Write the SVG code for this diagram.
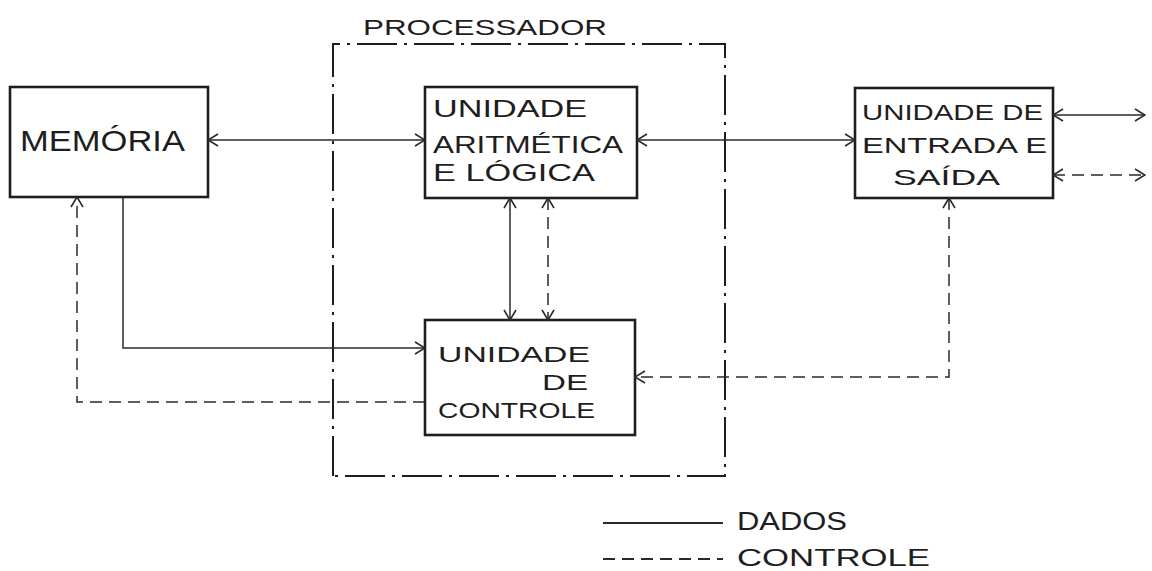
<svg xmlns="http://www.w3.org/2000/svg" width="1152" height="571" viewBox="0 0 1152 571">
<style>
.box{fill:none;stroke:#1e1e1e;stroke-width:2.6}
.d{fill:none;stroke:#2a2a2a;stroke-width:1.5}
.c{fill:none;stroke:#2a2a2a;stroke-width:1.5;stroke-dasharray:12 7}
.proc{fill:none;stroke:#1e1e1e;stroke-width:2;stroke-dasharray:40 7 3 7}
text{font-family:"Liberation Sans",Arial,sans-serif;fill:#1e1e1e;font-weight:normal}
.t{font-size:24px}
.s{font-size:22px}
</style>
<defs>
<marker id="ah" viewBox="0 0 12 14" refX="11" refY="7" markerWidth="12" markerHeight="14" markerUnits="userSpaceOnUse" orient="auto-start-reverse">
<path d="M1,1 L11,7 L1,13" fill="none" stroke="#2a2a2a" stroke-width="1.6"/>
</marker>
</defs>
<rect width="1152" height="571" fill="#ffffff"/>

<g id="processador">
<path class="proc" d="M333,476 V44 H725 V476 Z"/>
<text x="363" y="35" class="s" textLength="244" lengthAdjust="spacingAndGlyphs">PROCESSADOR</text>
</g>

<g id="memoria">
<rect class="box" x="10" y="87" width="198" height="110"/>
<text x="20" y="151" font-size="29" textLength="165" lengthAdjust="spacingAndGlyphs">MEMÓRIA</text>
</g>

<g id="ula">
<rect class="box" x="425" y="87" width="212" height="111"/>
<text x="433" y="117" class="t" textLength="154" lengthAdjust="spacingAndGlyphs">UNIDADE</text>
<text x="433" y="153" class="t" textLength="190" lengthAdjust="spacingAndGlyphs">ARITMÉTICA</text>
<text x="433" y="181" class="t" textLength="162" lengthAdjust="spacingAndGlyphs">E LÓGICA</text>
</g>

<g id="es">
<rect class="box" x="855" y="88" width="198" height="110"/>
<text x="862" y="120" class="s" textLength="181" lengthAdjust="spacingAndGlyphs">UNIDADE DE</text>
<text x="862" y="153" class="s" textLength="185" lengthAdjust="spacingAndGlyphs">ENTRADA E</text>
<text x="893" y="185" class="s" textLength="107" lengthAdjust="spacingAndGlyphs">SAÍDA</text>
</g>

<g id="uc">
<rect class="box" x="425" y="320" width="210" height="115"/>
<text x="438" y="362" class="s" textLength="152" lengthAdjust="spacingAndGlyphs">UNIDADE</text>
<text x="542" y="390" class="s" textLength="46" lengthAdjust="spacingAndGlyphs">DE</text>
<text x="438" y="418" class="s" textLength="157" lengthAdjust="spacingAndGlyphs">CONTROLE</text>
</g>

<g id="conectores">
<line class="d" x1="208" y1="140" x2="425" y2="140" marker-start="url(#ah)" marker-end="url(#ah)"/>
<line class="d" x1="637" y1="140" x2="855" y2="140" marker-start="url(#ah)" marker-end="url(#ah)"/>
<line class="d" x1="1053" y1="115" x2="1145" y2="115" marker-start="url(#ah)" marker-end="url(#ah)"/>
<line class="c" x1="1053" y1="175" x2="1145" y2="175" marker-start="url(#ah)" marker-end="url(#ah)"/>
<line class="d" x1="510" y1="198" x2="510" y2="320" marker-start="url(#ah)" marker-end="url(#ah)"/>
<line class="c" x1="548" y1="198" x2="548" y2="320" marker-start="url(#ah)" marker-end="url(#ah)"/>
<path class="d" d="M123,197 V348 H425" marker-end="url(#ah)"/>
<path class="c" d="M425,402 H77 V197" marker-end="url(#ah)"/>
<path class="c" d="M949,198 V377 H635" marker-start="url(#ah)" marker-end="url(#ah)"/>
</g>

<g id="legenda">
<line x1="603" y1="523" x2="723" y2="523" stroke="#2a2a2a" stroke-width="2"/>
<line x1="603" y1="559" x2="723" y2="559" stroke="#2a2a2a" stroke-width="2" stroke-dasharray="12 7"/>
<text x="737" y="530" font-size="25" textLength="110" lengthAdjust="spacingAndGlyphs">DADOS</text>
<text x="737" y="566" font-size="24" textLength="193" lengthAdjust="spacingAndGlyphs">CONTROLE</text>
</g>
</svg>
